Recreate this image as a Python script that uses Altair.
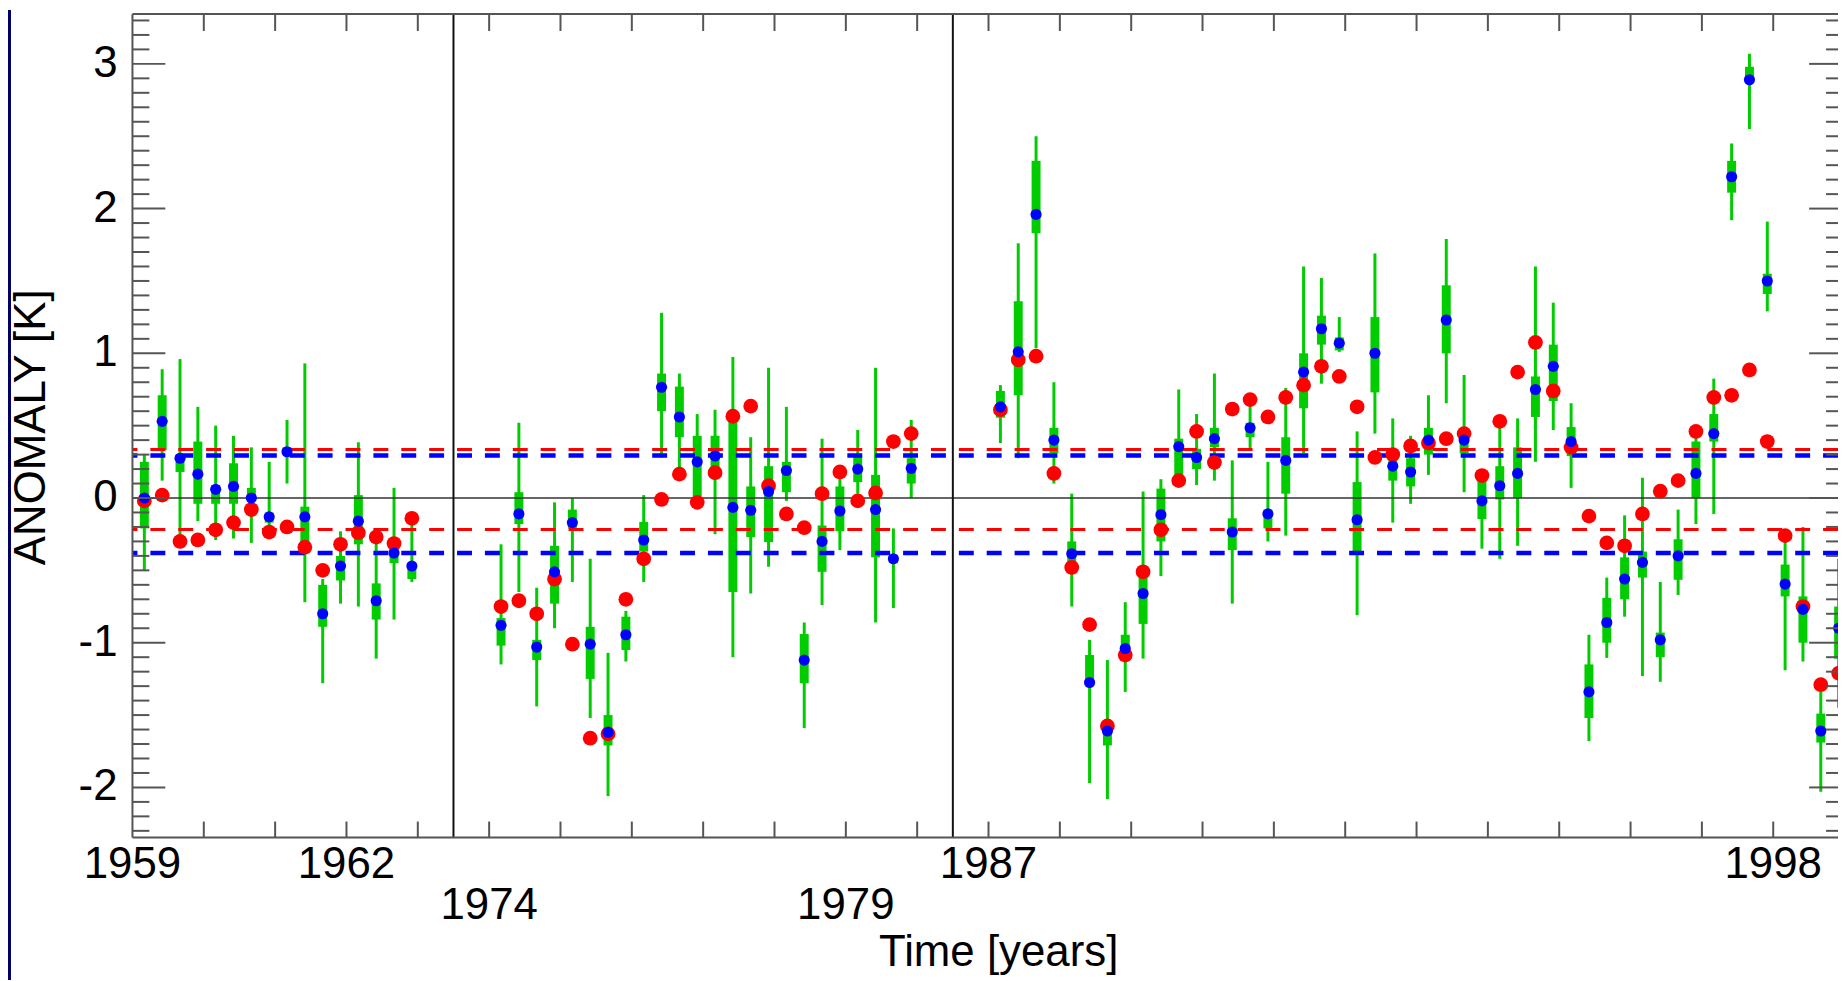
import altair as alt
import pandas as pd
import numpy as np

# ---------------- data ----------------
# quarterly points; three time windows
seg_first_year = [1959, 1974, 1987]
seg_count = [16, 24, 48]

red = [
    # 1959-1962
    -0.02, 0.02, -0.30, -0.29, -0.22, -0.17, -0.08, -0.235, -0.20, -0.34, -0.50, -0.32, -0.24, -0.27, -0.315, -0.14,
    # 1974-1979
    -0.75, -0.71, -0.80, -0.56, -1.01, -1.66, -1.63, -0.70, -0.42, -0.01, 0.165, -0.03, 0.175, 0.565, 0.635, 0.085,
    -0.11, -0.205, 0.03, 0.18, -0.02, 0.035, 0.39, 0.445,
    # 1987-1998
    0.61, 0.955, 0.98, 0.17, -0.48, -0.875, -1.575, -1.085, -0.51, -0.22, 0.12, 0.46, 0.245, 0.615, 0.68, 0.56,
    0.695, 0.78, 0.91, 0.84, 0.63, 0.28, 0.30, 0.36, 0.38, 0.41, 0.445, 0.155, 0.53, 0.87, 1.075, 0.74,
    0.35, -0.125, -0.31, -0.33, -0.11, 0.047, 0.12, 0.46, 0.695, 0.71, 0.885, 0.39, -0.26, -0.75, -1.29, -1.21,
]
blue = [
    0.00, 0.53, 0.275, 0.165, 0.06, 0.08, 0.00, -0.13, 0.32, -0.13, -0.80, -0.47, -0.16, -0.71, -0.38, -0.47,
    -0.88, -0.11, -1.03, -0.51, -0.17, -1.01, -1.62, -0.945, -0.29, 0.765, 0.56, 0.25, 0.29, -0.065, -0.085, 0.045,
    0.19, -1.12, -0.30, -0.09, 0.20, -0.08, -0.42, 0.205,
    0.63, 1.01, 1.96, 0.40, -0.385, -1.275, -1.61, -1.04, -0.66, -0.115, 0.355, 0.28, 0.41, -0.235, 0.485, -0.11,
    0.26, 0.87, 1.17, 1.07, -0.15, 1.00, 0.22, 0.18, 0.40, 1.23, 0.40, -0.02, 0.085, 0.17, 0.75, 0.91,
    0.39, -1.34, -0.86, -0.56, -0.445, -0.98, -0.40, 0.17, 0.445, 2.22, 2.89, 1.50, -0.595, -0.77, -1.61, -0.90,
]
whisk_hi = [
    0.30, 0.89, 0.96, 0.63, 0.50, 0.43, 0.35, 0.25, 0.54, 0.93, -0.56, -0.23, 0.385, -0.21, 0.07, -0.18,
    -0.32, 0.52, -0.62, -0.03, 0.00, -0.42, -1.07, -0.78, 0.02, 1.28, 0.86, 0.58, 0.61, 0.975, 0.42, 0.90,
    0.63, -0.86, 0.41, 0.20, 0.47, 0.90, -0.21, 0.54,
    0.78, 1.76, 2.50, 0.80, 0.03, -0.98, -1.12, -0.72, 0.045, 0.13, 0.75, 0.58, 0.86, 0.26, 0.70, 0.25,
    0.76, 1.60, 1.52, 1.25, 0.46, 1.69, 0.55, 0.43, 0.71, 1.79, 0.85, 0.20, 0.50, 0.55, 1.60, 1.35,
    0.655, -0.945, -0.55, -0.12, 0.14, -0.58, -0.08, 0.50, 0.825, 2.45, 3.07, 1.91, -0.285, -0.20, -1.34, -0.42,
]
whisk_lo = [
    -0.50, 0.12, -0.28, -0.16, -0.29, -0.28, -0.31, -0.27, 0.10, -0.72, -1.28, -0.73, -0.75, -1.11, -0.84, -0.58,
    -1.15, -0.65, -1.44, -0.90, -0.58, -1.52, -2.06, -1.13, -0.58, 0.28, 0.15, -0.05, -0.25, -1.10, -0.66, -0.475,
    -0.02, -1.59, -0.74, -0.36, 0.03, -0.86, -0.76, 0.00,
    0.38, 0.275, 1.035, 0.10, -0.75, -1.97, -2.08, -1.34, -1.11, -0.54, 0.12, 0.09, 0.12, -0.73, 0.34, -0.30,
    -0.26, 0.31, 0.79, 1.01, -0.81, 0.445, -0.17, -0.04, 0.16, 0.655, 0.04, -0.35, -0.42, -0.33, 0.25, 0.47,
    0.07, -1.68, -1.105, -0.82, -1.23, -1.27, -0.67, -0.18, -0.11, 1.92, 2.55, 1.29, -1.19, -1.13, -2.03, -1.45,
]
box_hi = [
    0.25, 0.71, 0.30, 0.39, 0.09, 0.24, 0.07, -0.10, 0.35, -0.06, -0.60, -0.40, 0.02, -0.59, -0.34, -0.475,
    -0.83, 0.04, -0.98, -0.33, -0.08, -0.89, -1.50, -0.82, -0.165, 0.86, 0.77, 0.43, 0.43, 0.54, 0.08, 0.22,
    0.25, -0.94, -0.19, 0.08, 0.29, 0.16, -0.40, 0.275,
    0.74, 1.36, 2.33, 0.485, -0.30, -1.085, -1.57, -0.945, -0.475, 0.065, 0.41, 0.34, 0.485, -0.14, 0.52, -0.08,
    0.42, 1.00, 1.26, 1.11, 0.11, 1.25, 0.31, 0.275, 0.485, 1.47, 0.42, 0.13, 0.22, 0.35, 0.84, 1.06,
    0.49, -1.15, -0.69, -0.41, -0.37, -0.93, -0.285, 0.39, 0.58, 2.33, 2.98, 1.55, -0.46, -0.68, -1.49, -0.75,
]
box_lo = [
    -0.21, 0.33, 0.18, -0.04, -0.04, -0.04, -0.02, -0.17, 0.30, -0.37, -0.89, -0.57, -0.32, -0.84, -0.45, -0.56,
    -1.02, -0.18, -1.12, -0.73, -0.21, -1.25, -1.71, -1.05, -0.37, 0.60, 0.42, 0.01, 0.16, -0.65, -0.27, -0.305,
    0.04, -1.28, -0.51, -0.23, 0.11, -0.41, -0.45, 0.10,
    0.555, 0.71, 1.83, 0.31, -0.45, -1.275, -1.71, -1.11, -0.87, -0.30, 0.13, 0.20, 0.35, -0.36, 0.42, -0.21,
    0.03, 0.62, 1.06, 1.02, -0.37, 0.73, 0.12, 0.08, 0.30, 1.00, 0.31, -0.145, -0.01, 0.00, 0.56, 0.67,
    0.29, -1.52, -1.00, -0.70, -0.55, -1.10, -0.565, 0.00, 0.39, 2.11, 2.88, 1.41, -0.68, -1.00, -1.69, -1.11,
]

red_levels = [0.335, -0.217]
blue_levels = [0.293, -0.38]
segment_breaks = [1963.5, 1980.5]          # drawn as vertical lines
year_ticks = [1960, 1961, 1962, 1963, 1974, 1975, 1976, 1977, 1978, 1979, 1980,
              1987, 1988, 1989, 1990, 1991, 1992, 1993, 1994, 1995, 1996, 1997, 1998]
year_labels = ["1959", "1962", "1974", "1979", "1987", "1998"]
year_label_row = [0, 0, 1, 1, 0, 0]
y_major = [-2, -1, 0, 1, 2, 3]
y_major_labels = ["-2", "-1", "0", "1", "2", "3"]
y_minor = [round(v, 1) for v in np.arange(-2.3, 3.35, 0.1) if abs(v - round(v)) > 0.05]
y_title = "ANOMALY [K]"
x_title = "Time [years]"


def comp(y):
    if y < 1970:
        return y - 1959
    if y < 1985:
        return y - 1969
    return y - 1975


# quarterly time stamps of the three windows
times = []
for y0, n in zip(seg_first_year, seg_count):
    times += [y0 + 1.0 / 6.0 + 0.25 * k for k in range(n)]

df = pd.DataFrame({
    "c": [comp(t) for t in times],
    "red": red, "blue": blue,
    "lo": whisk_lo, "hi": whisk_hi, "q1": box_lo, "q3": box_hi,
})

# ---------------- layout ----------------
W, H = 1713, 827
PX_PER_YEAR = 71.65
FONT = "Liberation Sans"
FS = 44
GREEN = "#00cc00"
AX = "#555555"

xscale = alt.Scale(domain=[0, W / PX_PER_YEAR], nice=False, zero=False)
yscale = alt.Scale(domain=[-2.346, 3.344], nice=False, zero=False)


def X(f="c"):
    return alt.X(f, type="quantitative", scale=xscale, axis=None)


def Y(f):
    return alt.Y(f, type="quantitative", scale=yscale, axis=None)


base = alt.Chart(df)

whisk = base.mark_rule(color=GREEN, strokeWidth=3).encode(x=X(), y=Y("lo"), y2="hi")
box = base.mark_rule(color=GREEN, strokeWidth=9).encode(x=X(), y=Y("q1"), y2="q3")
red_pts = base.mark_circle(color="#ff0000", size=220, opacity=1).encode(x=X(), y=Y("red"))
blue_pts = base.mark_circle(color="#0000ff", size=125, opacity=1).encode(x=X(), y=Y("blue"))

zero = alt.Chart(pd.DataFrame({"v": [0.0]})).mark_rule(color="#333333", strokeWidth=1.5).encode(y=Y("v"))
red_dash = alt.Chart(pd.DataFrame({"v": red_levels})).mark_rule(
    color="#ff0000", strokeWidth=3, strokeDash=[15, 13]).encode(y=Y("v"))
blue_dash = alt.Chart(pd.DataFrame({"v": blue_levels})).mark_rule(
    color="#0000ff", strokeWidth=4.5, strokeDash=[15, 13]).encode(y=Y("v"))
dividers = alt.Chart(pd.DataFrame({"c": [comp(v) for v in segment_breaks]})).mark_rule(
    color="#111111", strokeWidth=2).encode(x=X())

one = pd.DataFrame({"a": [0]})
frame_top = alt.Chart(one).mark_rule(color=AX, strokeWidth=2).encode(
    x=alt.value(0), x2=alt.value(W), y=alt.value(0))
frame_bot = alt.Chart(one).mark_rule(color=AX, strokeWidth=2).encode(
    x=alt.value(0), x2=alt.value(W), y=alt.value(H))
frame_left = alt.Chart(one).mark_rule(color=AX, strokeWidth=2).encode(
    x=alt.value(0), y=alt.value(0), y2=alt.value(H))
navy = alt.Chart(one).mark_rect(color="#000066").encode(
    x=alt.value(-125), x2=alt.value(-122), y=alt.value(-4), y2=alt.value(H + 150))

yt = pd.DataFrame({"c": [comp(v) for v in year_ticks]})
xt_bot = alt.Chart(yt).mark_rule(color=AX, strokeWidth=2).encode(
    x=X(), y=alt.value(H - 16), y2=alt.value(H))
xt_top = alt.Chart(yt).mark_rule(color=AX, strokeWidth=2).encode(
    x=X(), y=alt.value(0), y2=alt.value(17))

ymaj = pd.DataFrame({"v": y_major, "label": y_major_labels})
ymin = pd.DataFrame({"v": y_minor})
yt_lmaj = alt.Chart(ymaj).mark_rule(color=AX, strokeWidth=2).encode(
    y=Y("v"), x=alt.value(0), x2=alt.value(33))
yt_lmin = alt.Chart(ymin).mark_rule(color=AX, strokeWidth=2).encode(
    y=Y("v"), x=alt.value(0), x2=alt.value(17))
yt_rmaj = alt.Chart(ymaj).mark_rule(color=AX, strokeWidth=2).encode(
    y=Y("v"), x=alt.value(W - 29), x2=alt.value(W))
yt_rmin = alt.Chart(ymin).mark_rule(color=AX, strokeWidth=2).encode(
    y=Y("v"), x=alt.value(W - 12), x2=alt.value(W))

ylabels = alt.Chart(ymaj).mark_text(
    font=FONT, fontSize=FS, color="black", align="right", baseline="middle").encode(
    y=Y("v"), x=alt.value(-15), text="label:N")
ytitle = alt.Chart(pd.DataFrame({"t": [y_title]})).mark_text(
    font=FONT, fontSize=FS, color="black", align="center", baseline="alphabetic", angle=270).encode(
    x=alt.value(-88), y=alt.value(415), text="t:N")

lab = pd.DataFrame({"label": year_labels,
                    "c": [comp(int(s)) for s in year_labels],
                    "row": year_label_row})
lab0 = alt.Chart(lab).transform_filter("datum.row == 0").mark_text(
    font=FONT, fontSize=FS, color="black", align="center", baseline="alphabetic").encode(
    x=X(), y=alt.value(H + 41), text="label:N")
lab1 = alt.Chart(lab).transform_filter("datum.row == 1").mark_text(
    font=FONT, fontSize=FS, color="black", align="center", baseline="alphabetic").encode(
    x=X(), y=alt.value(H + 82), text="label:N")
xtitle = alt.Chart(pd.DataFrame({"t": [x_title]})).mark_text(
    font=FONT, fontSize=FS, color="black", align="center", baseline="alphabetic").encode(
    x=alt.value(870), y=alt.value(H + 129), text="t:N")

chart = alt.layer(
    navy, whisk, box, zero, red_dash, blue_dash, dividers, red_pts, blue_pts,
    frame_top, frame_bot, frame_left, xt_bot, xt_top, yt_lmaj, yt_lmin, yt_rmaj, yt_rmin,
    ylabels, ytitle, lab0, lab1, xtitle,
).properties(
    width=W, height=H,
    autosize=alt.AutoSizeParams(type="none"),
    padding={"left": 125, "top": 4, "right": 0, "bottom": 141},
    background="white",
).configure_view(stroke=None)

chart.save("out.html", embed_options={"renderer": "svg", "actions": False})
